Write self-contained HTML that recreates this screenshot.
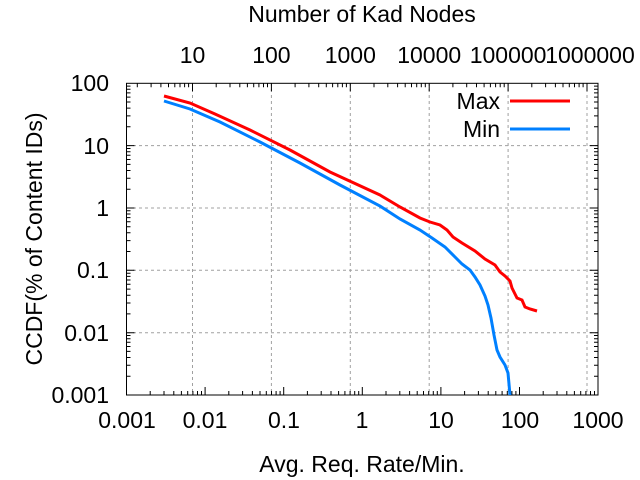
<!DOCTYPE html>
<html><head><meta charset="utf-8"><style>
html,body{margin:0;padding:0;background:#fff;}
svg{display:block;font-family:"Liberation Sans",Arial,sans-serif;}
</style></head><body>
<svg width="640" height="480" viewBox="0 0 640 480" xmlns="http://www.w3.org/2000/svg">
<g stroke="#a0a0a0" stroke-width="1" stroke-dasharray="3,3">
<line x1="192.5" y1="83" x2="192.5" y2="395"/>
<line x1="271.4" y1="83" x2="271.4" y2="395"/>
<line x1="350.3" y1="83" x2="350.3" y2="395"/>
<line x1="429.2" y1="83" x2="429.2" y2="395"/>
<line x1="508.1" y1="83" x2="508.1" y2="395"/>
<line x1="587" y1="83" x2="587" y2="395"/>
<line x1="127" y1="145.6" x2="598" y2="145.6"/>
<line x1="127" y1="208" x2="598" y2="208"/>
<line x1="127" y1="270.3" x2="598" y2="270.3"/>
<line x1="127" y1="332.7" x2="598" y2="332.7"/>
</g>
<g stroke="#000" stroke-width="1" fill="none">
<path d="M126.5 395v-8M150.2 395v-4M164 395v-4M173.8 395v-4M181.4 395v-4M187.7 395v-4M192.9 395v-4M197.5 395v-4M201.5 395v-4
M205.1 395v-8M228.8 395v-4M242.6 395v-4M252.4 395v-4M260 395v-4M266.3 395v-4M271.5 395v-4M276.1 395v-4M280.1 395v-4
M283.7 395v-8M307.4 395v-4M321.2 395v-4M331 395v-4M338.6 395v-4M344.9 395v-4M350.1 395v-4M354.7 395v-4M358.7 395v-4
M362.3 395v-8M386 395v-4M399.8 395v-4M409.6 395v-4M417.2 395v-4M423.5 395v-4M428.7 395v-4M433.3 395v-4M437.3 395v-4
M440.9 395v-8M464.6 395v-4M478.4 395v-4M488.2 395v-4M495.8 395v-4M502.1 395v-4M507.3 395v-4M511.9 395v-4M515.9 395v-4
M519.5 395v-8M543.2 395v-4M557 395v-4M566.8 395v-4M574.4 395v-4M580.7 395v-4M585.9 395v-4M590.5 395v-4M594.5 395v-4M598 395v-8"/>
<path d="M137.3 83.3v4M151.1 83.3v4M160.9 83.3v4M168.5 83.3v4M174.8 83.3v4M180 83.3v4M184.6 83.3v4M188.6 83.3v4
M192.5 83.3v8M216.2 83.3v4M230 83.3v4M239.8 83.3v4M247.4 83.3v4M253.7 83.3v4M258.9 83.3v4M263.5 83.3v4M267.5 83.3v4
M271.4 83.3v8M295.1 83.3v4M308.9 83.3v4M318.7 83.3v4M326.3 83.3v4M332.6 83.3v4M337.8 83.3v4M342.4 83.3v4M346.4 83.3v4
M350.3 83.3v8M374 83.3v4M387.8 83.3v4M397.6 83.3v4M405.2 83.3v4M411.5 83.3v4M416.7 83.3v4M421.3 83.3v4M425.3 83.3v4
M429.2 83.3v8M452.9 83.3v4M466.7 83.3v4M476.5 83.3v4M484.1 83.3v4M490.4 83.3v4M495.6 83.3v4M500.2 83.3v4M504.2 83.3v4
M508.1 83.3v8M531.8 83.3v4M545.6 83.3v4M555.4 83.3v4M563 83.3v4M569.3 83.3v4M574.5 83.3v4M579.1 83.3v4M583.1 83.3v4M587 83.3v8"/>
<path d="M126.5 395h8M126.5 376.2h4M126.5 365.3h4M126.5 357.5h4M126.5 351.4h4M126.5 346.5h4M126.5 342.3h4M126.5 338.7h4M126.5 335.5h4
M126.5 332.7h8M126.5 313.9h4M126.5 303h4M126.5 295.2h4M126.5 289.1h4M126.5 284.2h4M126.5 280h4M126.5 276.4h4M126.5 273.2h4
M126.5 270.3h8M126.5 251.5h4M126.5 240.6h4M126.5 232.8h4M126.5 226.7h4M126.5 221.8h4M126.5 217.6h4M126.5 214h4M126.5 210.8h4
M126.5 208h8M126.5 189.2h4M126.5 178.3h4M126.5 170.5h4M126.5 164.4h4M126.5 159.5h4M126.5 155.3h4M126.5 151.7h4M126.5 148.5h4
M126.5 145.6h8M126.5 126.8h4M126.5 115.9h4M126.5 108.1h4M126.5 102h4M126.5 97.1h4M126.5 92.9h4M126.5 89.3h4M126.5 86.1h4"/>
<path d="M598 395h-8M598 376.2h-4M598 365.3h-4M598 357.5h-4M598 351.4h-4M598 346.5h-4M598 342.3h-4M598 338.7h-4M598 335.5h-4
M598 332.7h-8M598 313.9h-4M598 303h-4M598 295.2h-4M598 289.1h-4M598 284.2h-4M598 280h-4M598 276.4h-4M598 273.2h-4
M598 270.3h-8M598 251.5h-4M598 240.6h-4M598 232.8h-4M598 226.7h-4M598 221.8h-4M598 217.6h-4M598 214h-4M598 210.8h-4
M598 208h-8M598 189.2h-4M598 178.3h-4M598 170.5h-4M598 164.4h-4M598 159.5h-4M598 155.3h-4M598 151.7h-4M598 148.5h-4
M598 145.6h-8M598 126.8h-4M598 115.9h-4M598 108.1h-4M598 102h-4M598 97.1h-4M598 92.9h-4M598 89.3h-4M598 86.1h-4"/>
</g>
<rect x="126.5" y="83.3" width="471.5" height="311.7" fill="none" stroke="#000" stroke-width="1"/>
<polyline fill="none" stroke="#ff0000" stroke-width="3" points="164,96 190,103 215,114 250,130 290,150 330,172 380,195 400,207 420,218 430,222 440,225 447,230 453,237 462,243 475,251 485,259 495,265 500,272 505,276 510,281 512,288 517,298 522,300 525,307 530,309 537,311"/>
<polyline fill="none" stroke="#0080ff" stroke-width="3" points="164,101 190,109 220,122 260,142 300,163 340,185 380,206 400,219 420,230 432,238 445,247 455,257 462,264 470,270 475,277 480,285 485,296 488,305 491,318 494,335 497,350 500,357 505,365 508,373 510,395"/>
<g font-size="23" fill="#000">
<text x="500" y="109" text-anchor="end">Max</text>
<text x="500" y="137" text-anchor="end">Min</text>
</g>
<line x1="510" y1="101" x2="570" y2="101" stroke="#ff0000" stroke-width="3"/>
<line x1="510" y1="129" x2="570" y2="129" stroke="#0080ff" stroke-width="3"/>
<g font-size="23" fill="#000" text-anchor="end">
<text x="109" y="91">100</text>
<text x="109" y="154">10</text>
<text x="109" y="216">1</text>
<text x="109" y="278">0.1</text>
<text x="109" y="341">0.01</text>
<text x="109" y="403">0.001</text>
</g>
<g font-size="23" fill="#000" text-anchor="middle">
<text x="127" y="428">0.001</text>
<text x="205" y="428">0.01</text>
<text x="284" y="428">0.1</text>
<text x="362" y="428">1</text>
<text x="441" y="428">10</text>
<text x="520" y="428">100</text>
<text x="598" y="428">1000</text>
<text x="192.5" y="63">10</text>
<text x="271.4" y="63">100</text>
<text x="350.3" y="63">1000</text>
<text x="429.2" y="63">10000</text>
<text x="508.1" y="63">100000</text>
<text x="590" y="63">1000000</text>
<text x="362" y="22">Number of Kad Nodes</text>
<text x="362" y="472">Avg. Req. Rate/Min.</text>
<text transform="translate(42,239) rotate(-90)">CCDF(% of Content IDs)</text>
</g>
</svg>
</body></html>
